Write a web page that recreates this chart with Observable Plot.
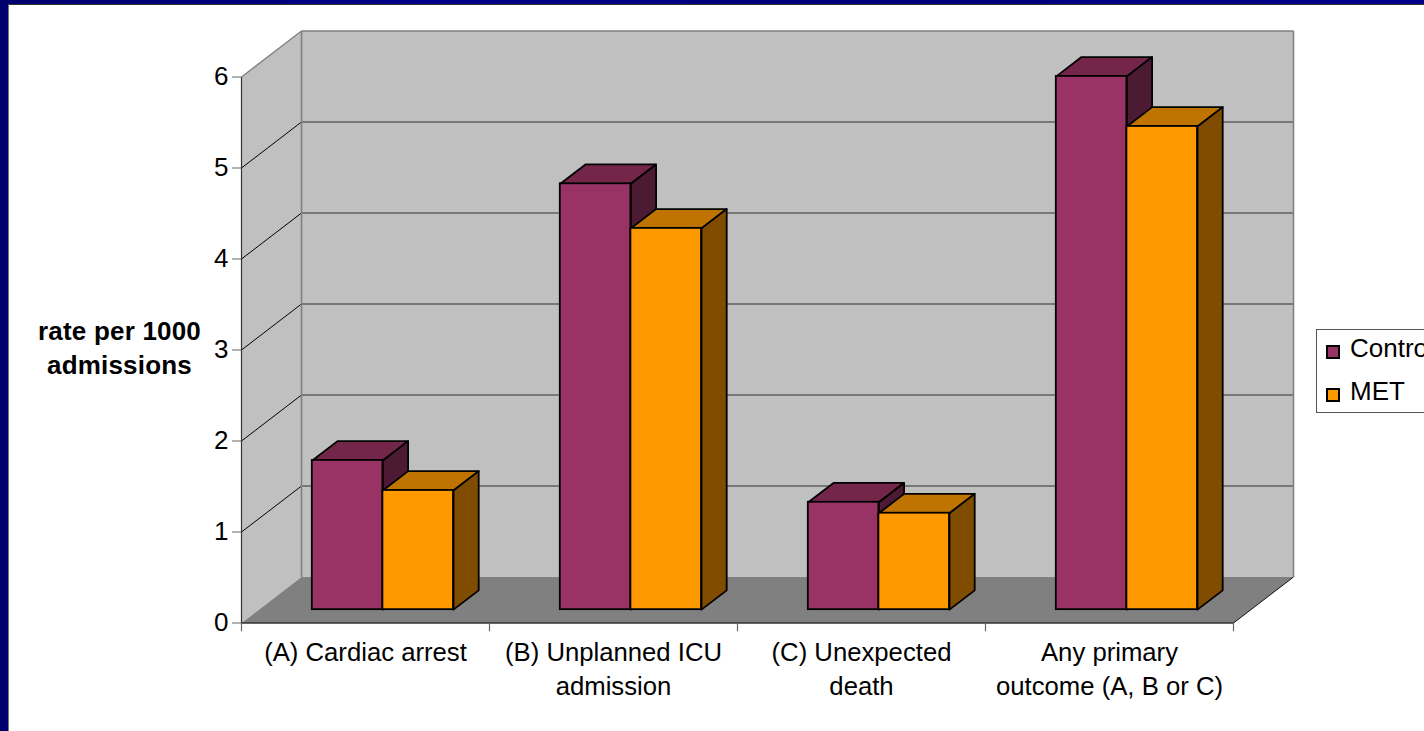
<!DOCTYPE html>
<html>
<head>
<meta charset="utf-8">
<script src="https://cdn.jsdelivr.net/npm/d3@7"></script>
<script src="https://cdn.jsdelivr.net/npm/@observablehq/plot@0.6"></script>
<style>
  html, body { margin: 0; padding: 0; width: 1424px; height: 731px; overflow: hidden; background: #000080; }
  #slide { position: relative; width: 1424px; height: 731px; overflow: hidden;
           background: linear-gradient(90deg, #00006e, #000088 30%, #00007a 60%, #00008a); }
  #panel { position: absolute; left: 8px; top: 4px; right: 0; bottom: 0; background: #fff;
           border-left: 1px solid #777; border-top: 1px solid #333; }
  #slide svg { position: absolute; left: 0; top: 0; background: transparent; }
  #legend { position: absolute; left: 1316px; top: 329px; width: 140px; height: 84px; box-sizing: border-box;
            background: #fff; border: 1px solid #555; font: 26px/30px "Liberation Sans", Arial, sans-serif; color: #000; }
  #legend div { position: absolute; left: 33px; white-space: nowrap; }
  #legend i { position: absolute; left: 9px; width: 10px; height: 10px; border: 2px solid #000; }
  .axis-title { letter-spacing: 0.2px; }
</style>
</head>
<body>
<div id="slide">
  <div id="panel"></div>
  <div id="chart"></div>
  <div id="legend"></div>
</div>
<script>
// Rate per 1000 admissions for each outcome and study arm
const categories = ["(A) Cardiac arrest", "(B) Unplanned ICU\nadmission", "(C) Unexpected\ndeath", "Any primary\noutcome (A, B or C)"];
const control = [1.64, 4.68, 1.18, 5.86];
const met = [1.31, 4.19, 1.06, 5.31];
const yTicks = [0, 1, 2, 3, 4, 5, 6];
const seriesNames = ["Control", "MET"];

// Shades for the front, top and side of each series' columns
const controlShades = {front: "#993366", top: "#732649", side: "#4d1a33"};
const metShades = {front: "#ff9900", top: "#bf7300", side: "#804d00"};

// Oblique projection: a point at depth d (0 front, 1 back) shifts right and up in data units
const shiftX = 60 / 248, shiftY = 46 / 91;
const X = (c, d) => c + d * shiftX;
const Y = (v, d) => v + d * shiftY;
const nearD = 0.29, farD = 0.71;
const barW = 70.6 / 248;

// A closed face through the given [category, value, depth] corners
function face(id, fill, corners) {
  const pts = [...corners, corners[0]];
  return pts.map(([c, v, d]) => ({id, fill, x: X(c, d), y: Y(v, d)}));
}

const walls = [
  ...face("left", "#c0c0c0", [[0, 0, 0], [0, 6, 0], [0, 6, 1], [0, 0, 1]]),
  ...face("back", "#c0c0c0", [[0, 0, 1], [0, 6, 1], [4, 6, 1], [4, 0, 1]]),
  ...face("floor", "#808080", [[0, 0, 0], [4, 0, 0], [4, 0, 1], [0, 0, 1]])
];

const bars = [];
const faces = [];
[[control, controlShades, -1], [met, metShades, 0]].forEach(([values, shades, offset], s) => {
  values.forEach((v, i) => {
    const c0 = i + 0.5 + offset * barW;
    const c1 = c0 + barW;
    bars.push({x1: X(c0, nearD), x2: X(c1, nearD), y1: Y(0, nearD), y2: Y(v, nearD), fill: shades.front});
    faces.push(...face(`top-${s}-${i}`, shades.top, [[c0, v, nearD], [c1, v, nearD], [c1, v, farD], [c0, v, farD]]));
    faces.push(...face(`side-${s}-${i}`, shades.side, [[c1, 0, nearD], [c1, v, nearD], [c1, v, farD], [c1, 0, farD]]));
  });
});

const gridValues = yTicks.filter(v => v > 0 && v < 6);
const labelRows = categories.map((label, i) => ({label, x: i + 0.5}));

const chart = Plot.plot({
  width: 1424,
  height: 731,
  marginLeft: 241,
  marginRight: 191,
  marginTop: 76.5,
  marginBottom: 108.5,
  style: {background: "transparent", fontFamily: "'Liberation Sans', Arial, sans-serif", overflow: "visible"},
  x: {domain: [0, 4], axis: null},
  y: {domain: [0, 6], axis: null},
  marks: [
    // Walls and floor of the chart box
    Plot.line(walls, {x: "x", y: "y", z: "id", fill: "fill", stroke: "none", curve: "linear"}),

    // Back-wall gridlines and their continuation across the left wall
    Plot.link(gridValues, {x1: X(0, 1), x2: X(4, 1), y1: v => Y(v, 1), y2: v => Y(v, 1), stroke: "#606060", strokeWidth: 1.6}),
    Plot.link(gridValues, {x1: X(0, 0), x2: X(0, 1), y1: v => Y(v, 0), y2: v => Y(v, 1), stroke: "#000", strokeWidth: 1}),

    // Box edges
    Plot.link([0], {x1: X(0, 1), x2: X(0, 1), y1: Y(0, 1), y2: Y(6, 1), stroke: "#808080", strokeWidth: 1.6}),
    Plot.link([0], {x1: X(4, 1), x2: X(4, 1), y1: Y(0, 1), y2: Y(6, 1), stroke: "#808080", strokeWidth: 1.6}),
    Plot.link([0], {x1: X(0, 1), x2: X(4, 1), y1: Y(6, 1), y2: Y(6, 1), stroke: "#808080", strokeWidth: 1.6}),
    Plot.link([0], {x1: X(0, 0), x2: X(0, 1), y1: Y(6, 0), y2: Y(6, 1), stroke: "#808080", strokeWidth: 1.4}),
    Plot.link([0], {x1: X(0, 0), x2: X(0, 0), y1: 0, y2: 6, stroke: "#333", strokeWidth: 1.2}),
    Plot.link([0], {x1: 0, x2: 4, y1: 0, y2: 0, stroke: "#333", strokeWidth: 1.6}),
    Plot.link([0], {x1: X(4, 0), x2: X(4, 1), y1: Y(0, 0), y2: Y(0, 1), stroke: "#111", strokeWidth: 1}),

    // Column tops and sides, then the front faces
    Plot.line(faces, {x: "x", y: "y", z: "id", fill: "fill", stroke: "#000", strokeWidth: 1.8, strokeLinejoin: "round", curve: "linear"}),
    Plot.rect(bars, {x1: "x1", x2: "x2", y1: "y1", y2: "y2", fill: "fill", stroke: "#000", strokeWidth: 1.8}),

    // Axes
    Plot.axisY({ticks: yTicks, tickSize: 9, tickPadding: 4, fontSize: 26, stroke: "#666", label: null, tickFormat: d3.format("d"), fill: "#000"}),
    Plot.link([0, 1, 2, 3, 4], {x1: d => d, x2: d => d, y1: 0, y2: -0.09, stroke: "#666", strokeWidth: 1.2}),
    Plot.text(labelRows, {x: "x", y: 0, text: "label", lineAnchor: "top", dy: 14, lineHeight: 1.31, fontSize: 25.7, fill: "#000"}),

    // Value-axis title
    Plot.text(["rate per 1000\nadmissions"], {x: 0, y: 3, dx: -122, dy: -4, text: d => d, textAnchor: "middle", lineHeight: 1.31, fontSize: 26, fontWeight: "bold", fill: "#000", className: "axis-title"})
  ]
});
document.getElementById("chart").append(chart);

// Series key beside the plot
const legend = document.getElementById("legend");
[controlShades.front, metShades.front].forEach((color, i) => {
  const swatch = document.createElement("i");
  swatch.style.background = color;
  swatch.style.top = (15 + i * 43) + "px";
  legend.append(swatch);
  const name = document.createElement("div");
  name.textContent = seriesNames[i];
  name.style.top = (3 + i * 43) + "px";
  legend.append(name);
});
</script>
</body>
</html>
